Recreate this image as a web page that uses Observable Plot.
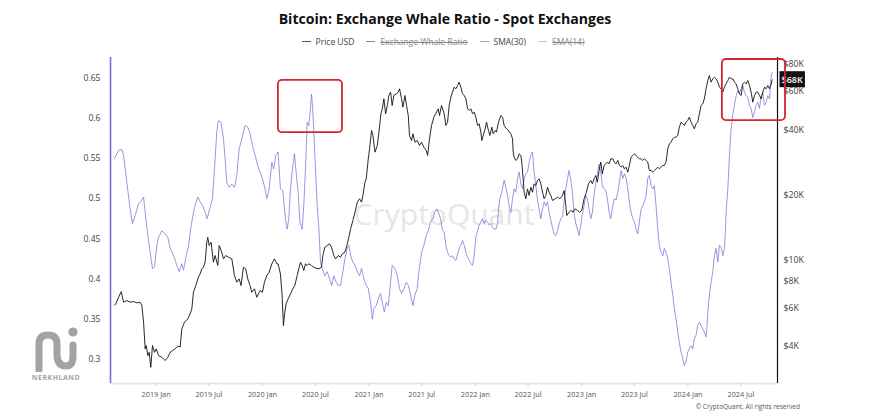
<!DOCTYPE html>
<html><head><meta charset="utf-8">
<script src="https://cdn.jsdelivr.net/npm/d3@7"></script>
<script src="https://cdn.jsdelivr.net/npm/@observablehq/plot@0.6"></script>
<style>
body{margin:0;background:#fff;}
#wrap{position:relative;width:890px;height:420px;overflow:hidden;font-family:"Open Sans",sans-serif;background:#fff;}
#title{position:absolute;top:9px;left:0;width:890px;text-align:center;font-weight:700;font-size:14.1px;color:#111;}
#legend{position:absolute;top:36px;left:0;width:886px;display:flex;justify-content:center;gap:12px;font-size:8.5px;color:#444;}
.item{display:flex;align-items:center;gap:5px}
.sw{width:9px;height:1.6px;display:inline-block}
.off{text-decoration:line-through;color:#888}
#chart{position:absolute;top:50px;left:0}
#copy{position:absolute;top:402px;right:90px;font-size:6.5px;color:#555}
#logo{position:absolute;left:27px;top:324px;width:58px;text-align:center;color:#a3a3a3}
#logo svg{display:block;margin:0 auto}
#logo .name{font:700 7px/8px 'Open Sans';letter-spacing:0.5px;margin-top:2px}
</style></head>
<body><div id="wrap">
<div id="title"></div>
<div id="legend"></div>
<div id="chart"></div>
<div id="copy"></div>
<div id="logo"><svg width="48" height="48" viewBox="0 0 48 48"><path d="M7 46 L7 20 Q7 11 16 11 Q25 11 25 20 L25 30 Q25 42 34 42 Q41 42 41 32 L41 21" fill="none" stroke="#a3a3a3" stroke-width="7" stroke-linecap="round"/><circle cx="41" cy="8" r="4.6" fill="#a3a3a3"/></svg><div class="name">NERKHLAND</div></div>
</div>
<script>
const titleText = "Bitcoin: Exchange Whale Ratio - Spot Exchanges";
const legendLabels = ["Price USD","Exchange Whale Ratio","SMA(30)","SMA(14)"];
const legendColors = ["#555","#888","#a9a6d0","#ccc"];
const legendHidden = [false,true,false,true];
const copyrightText = "© CryptoQuant. All rights reserved";
const watermarkText = "CryptoQuant";

const xDomainYears = [2018.571, 2024.840];
const ratioDomain = [0.270, 0.6755];
const priceDomain = [2700, 86200];
const ratioTicks = [0.3,0.35,0.4,0.45,0.5,0.55,0.6,0.65];
const priceTicks = [4000,6000,8000,10000,20000,40000,60000,80000];
const priceTickLabels = ["$4K","$6K","$8K","$10K","$20K","$40K","$60K","$80K"];
const dateTicks = ["2019-01-01","2019-07-01","2020-01-01","2020-07-01","2021-01-01","2021-07-01","2022-01-01","2022-07-01","2023-01-01","2023-07-01","2024-01-01","2024-07-01"];
const lastPriceLabel = "$68K";
const highlightFrom = [2020.150, 2024.323];
const highlightTo = [2020.751, 2024.915];
const highlightLow = [0.582, 0.597];
const highlightHigh = [0.647, 0.673];

const priceYears = [2018.609,2018.621,2018.647,2018.672,2018.694,2018.725,2018.756,2018.788,2018.819,2018.850,2018.866,2018.882,2018.897,2018.907,2018.922,2018.935,2018.950,2018.966,2018.985,2019.001,2019.023,2019.054,2019.085,2019.110,2019.132,2019.154,2019.179,2019.204,2019.226,2019.242,2019.267,2019.298,2019.320,2019.336,2019.351,2019.373,2019.398,2019.414,2019.430,2019.445,2019.461,2019.477,2019.486,2019.499,2019.517,2019.539,2019.555,2019.580,2019.593,2019.618,2019.634,2019.655,2019.680,2019.712,2019.737,2019.759,2019.781,2019.799,2019.821,2019.843,2019.862,2019.884,2019.900,2019.925,2019.947,2019.962,2019.978,2020.000,2020.019,2020.041,2020.063,2020.088,2020.113,2020.135,
2020.147,2020.169,2020.185,2020.197,2020.210,2020.222,2020.241,2020.263,2020.285,2020.304,2020.326,2020.341,2020.357,2020.373,2020.388,2020.404,2020.420,2020.435,2020.460,2020.482,2020.504,2020.529,2020.554,2020.567,2020.586,2020.608,2020.630,2020.648,2020.670,2020.686,2020.711,2020.733,2020.749,2020.774,2020.792,2020.811,2020.827,2020.849,2020.868,2020.890,2020.911,2020.930,2020.943,2020.962,2020.974,2020.993,2021.005,2021.024,2021.037,2021.056,2021.078,2021.093,2021.112,2021.125,2021.140,2021.156,2021.172,2021.187,2021.203,2021.218,2021.234,2021.256,2021.275,2021.287,2021.306,2021.319,2021.338,2021.353,2021.369,2021.381,2021.400,2021.413,2021.432,2021.453,2021.475,2021.494,2021.516,2021.538,2021.551,2021.569,2021.588,2021.610,2021.626,2021.651,2021.663,2021.682,
2021.707,2021.723,2021.739,2021.754,2021.770,2021.786,2021.801,2021.817,2021.833,2021.848,2021.864,2021.880,2021.895,2021.911,2021.927,2021.942,2021.958,2021.974,2021.989,2022.005,2022.021,2022.036,2022.052,2022.061,2022.074,2022.093,2022.105,2022.124,2022.137,2022.155,2022.168,2022.187,2022.199,2022.218,2022.240,2022.256,2022.271,2022.293,2022.312,2022.334,2022.350,2022.356,2022.365,2022.381,2022.397,2022.412,2022.428,2022.437,2022.450,2022.459,2022.475,2022.491,2022.506,2022.522,2022.538,2022.553,2022.569,2022.585,2022.600,2022.616,2022.632,2022.647,2022.663,2022.679,2022.694,2022.710,2022.726,2022.751,2022.773,2022.794,2022.820,2022.835,2022.851,2022.860,2022.882,2022.898,2022.920,2022.939,2022.961,2022.982,2023.001,2023.023,2023.045,2023.064,2023.086,2023.101,2023.117,2023.133,2023.148,2023.164,2023.180,2023.195,2023.211,2023.227,2023.242,2023.258,2023.274,
2023.293,2023.308,2023.324,2023.340,2023.355,2023.371,2023.387,2023.402,2023.418,2023.434,2023.449,2023.465,2023.481,2023.496,2023.512,2023.528,2023.543,2023.559,2023.575,2023.590,2023.606,2023.622,2023.637,2023.653,2023.669,2023.684,2023.700,2023.716,2023.731,2023.747,2023.763,2023.778,2023.794,2023.810,2023.825,2023.841,2023.857,2023.872,2023.888,2023.904,2023.919,2023.935,2023.951,2023.966,2023.982,2023.998,2024.013,2024.029,2024.045,2024.060,2024.076,2024.092,2024.107,2024.123,2024.139,2024.154,2024.170,2024.186,2024.201,2024.217,2024.233,2024.248,2024.264,2024.280,2024.295,2024.311,2024.327,2024.342,2024.358,2024.374,2024.389,2024.405,2024.421,2024.436,2024.452,2024.467,2024.483,2024.499,2024.514,2024.530,2024.546,2024.561,2024.577,2024.593,2024.608,2024.624,2024.640,2024.655,2024.671,2024.687,2024.702,2024.718,2024.734,2024.749,2024.765,2024.781,2024.790];
const priceUSD = [6200,6289,6747,7170,6403,6518,6403,6448,6359,6403,6183,5179,3902,4043,3629,3761,3206,4043,3761,3902,3629,3567,3444,3567,3761,3831,3902,4016,3981,4827,5179,5364,5655,5965,7117,7645,8350,8650,9125,9292,9795,12120,12772,11697,12120,9795,10517,9460,11697,10896,10147,10517,10332,10147,8500,7918,8200,7645,9292,9125,8200,7645,7117,7381,6747,6994,7249,7117,7918,8500,8808,9627,10147,9627,
9627,8650,6870,4994,5760,6289,6632,6994,7381,7645,8500,9125,9795,9460,8966,9627,9460,9627,9460,9292,9187,9125,9292,10517,11494,11697,11908,11494,10517,10147,10517,10332,10711,10896,11697,12772,13961,15255,16665,18532,19210,18532,19897,22918,23746,29375,32669,39689,37637,31533,33840,38993,47387,49968,55578,47387,51773,57578,59656,51773,57578,58617,59656,61815,55578,50866,57578,51773,46550,37637,35690,38315,35065,35690,33840,35065,33250,32096,30432,36333,41856,45740,47387,49968,46550,51773,
47387,41856,43370,51773,56574,59656,62907,61815,64034,66326,62907,58617,57578,55578,49968,49096,49968,47387,48233,45740,41856,42604,38993,35690,37637,40402,43370,39689,37637,41125,38315,39689,38993,43370,46550,45740,41856,40402,39689,38315,36333,31533,29903,28864,29375,30978,30432,28353,23746,20611,19210,21351,19897,21738,20611,22522,22126,23332,23746,22522,20611,19210,19897,21738,20611,19897,18867,19210,19545,19210,19897,20981,17889,16083,16665,16964,16665,17272,16964,16665,16964,19210,20611,22522,23332,22522,23746,24601,22918,25948,28353,25041,27366,27851,28353,27851,29375,
29375,28353,27851,28864,27366,26882,27366,26406,26882,25490,27366,29903,30432,30978,30432,29903,29375,29375,28864,29375,28864,28353,25948,25948,25490,25948,26406,26882,26406,26882,27366,27366,28353,32669,34448,35065,36333,36976,36976,37637,41125,43370,42604,41856,43370,44146,45740,43370,41856,40402,42604,43370,47387,51773,52698,55578,61815,67522,71204,66326,68729,69962,68729,66326,62907,61815,59656,62907,65170,67522,69962,68729,68729,66326,65170,61815,58617,57578,65170,66326,65170,67522,64034,59656,53641,57578,59656,59656,57578,55578,59656,62907,61815,64034,61815,65170,68000];

const smaYears = [2018.609,2018.647,2018.678,2018.694,2018.725,2018.756,2018.778,2018.803,2018.835,2018.866,2018.882,2018.897,2018.922,2018.944,2018.966,2018.985,2019.007,2019.023,2019.054,2019.085,2019.110,2019.132,2019.164,2019.195,2019.217,2019.242,2019.258,2019.283,2019.304,2019.330,2019.361,2019.392,2019.414,2019.439,2019.461,2019.480,2019.508,2019.530,2019.549,2019.571,2019.586,2019.611,2019.634,2019.649,2019.665,2019.687,2019.712,2019.737,2019.759,2019.781,2019.806,2019.837,2019.862,2019.884,2019.906,2019.931,2019.956,2019.978,2020.000,2020.025,2020.041,2020.063,2020.088,2020.106,2020.125,
2020.147,2020.169,2020.191,2020.216,2020.232,2020.248,2020.263,2020.279,2020.301,2020.316,2020.335,2020.351,2020.373,2020.388,2020.404,2020.420,2020.435,2020.448,2020.461,2020.473,2020.492,2020.514,2020.530,2020.545,2020.561,2020.586,2020.608,2020.630,2020.649,2020.670,2020.692,2020.711,2020.733,2020.749,2020.774,2020.796,2020.811,2020.827,2020.849,2020.868,2020.890,2020.911,2020.930,2020.952,2020.974,2020.993,2021.015,2021.031,2021.046,2021.068,2021.087,2021.109,2021.125,2021.144,2021.162,2021.181,2021.203,2021.218,2021.244,2021.266,2021.287,2021.306,2021.328,2021.350,2021.369,2021.391,2021.413,2021.432,2021.453,2021.469,2021.494,2021.516,2021.538,2021.563,2021.579,2021.601,2021.620,2021.642,2021.657,2021.673,2021.689,
2021.707,2021.723,2021.739,2021.754,2021.770,2021.786,2021.801,2021.817,2021.833,2021.848,2021.864,2021.880,2021.895,2021.911,2021.927,2021.942,2021.958,2021.974,2021.989,2022.005,2022.021,2022.036,2022.052,2022.068,2022.083,2022.099,2022.115,2022.130,2022.146,2022.162,2022.177,2022.193,2022.209,2022.218,2022.231,2022.249,2022.271,2022.287,2022.303,2022.318,2022.334,2022.350,2022.365,2022.381,2022.397,2022.412,2022.428,2022.444,2022.459,2022.475,2022.491,2022.506,2022.522,2022.538,2022.553,2022.569,2022.585,2022.600,2022.616,2022.632,2022.647,2022.663,2022.679,2022.694,2022.710,2022.726,2022.741,2022.757,2022.773,2022.788,2022.804,2022.820,2022.835,2022.851,2022.867,2022.882,2022.898,2022.913,2022.929,2022.945,2022.961,2022.976,2022.992,2023.007,2023.023,2023.039,2023.054,2023.070,2023.086,2023.101,2023.117,2023.133,2023.148,2023.164,2023.180,2023.195,2023.211,2023.227,2023.242,2023.258,2023.274,
2023.293,2023.308,2023.324,2023.340,2023.355,2023.371,2023.387,2023.402,2023.418,2023.434,2023.449,2023.465,2023.481,2023.496,2023.512,2023.528,2023.543,2023.559,2023.575,2023.590,2023.606,2023.622,2023.637,2023.653,2023.669,2023.684,2023.700,2023.716,2023.731,2023.747,2023.763,2023.778,2023.794,2023.810,2023.825,2023.841,2023.857,2023.872,2023.888,2023.904,2023.919,2023.935,2023.951,2023.966,2023.982,2023.998,2024.013,2024.029,2024.045,2024.060,2024.076,2024.092,2024.107,2024.123,2024.139,2024.154,2024.170,2024.179,2024.186,2024.201,2024.217,2024.233,2024.248,2024.264,2024.280,2024.295,2024.311,2024.327,2024.342,2024.352,2024.358,2024.374,2024.389,2024.405,2024.421,2024.436,2024.452,2024.467,2024.483,2024.499,2024.514,2024.530,2024.546,2024.561,2024.577,2024.593,2024.608,2024.624,2024.640,2024.655,2024.671,2024.687,2024.702,2024.718,2024.734,2024.749,2024.765,2024.781,2024.790];
const smaRatio = [0.550,0.560,0.561,0.554,0.520,0.487,0.469,0.479,0.494,0.498,0.502,0.483,0.454,0.433,0.413,0.415,0.442,0.452,0.460,0.456,0.452,0.438,0.429,0.417,0.409,0.419,0.411,0.429,0.440,0.467,0.489,0.502,0.496,0.491,0.483,0.475,0.489,0.500,0.537,0.583,0.597,0.595,0.574,0.550,0.520,0.514,0.518,0.514,0.529,0.562,0.574,0.591,0.589,0.581,0.566,0.554,0.541,0.533,0.525,0.512,0.500,0.512,0.545,0.537,0.554,
0.558,0.512,0.510,0.475,0.462,0.475,0.512,0.533,0.556,0.533,0.508,0.471,0.462,0.491,0.537,0.595,0.591,0.608,0.630,0.608,0.554,0.491,0.462,0.421,0.413,0.404,0.409,0.400,0.392,0.404,0.396,0.392,0.392,0.404,0.425,0.438,0.442,0.429,0.421,0.417,0.409,0.404,0.413,0.400,0.392,0.388,0.371,0.350,0.363,0.367,0.375,0.382,0.371,0.359,0.371,0.367,0.396,0.417,0.413,0.404,0.388,0.382,0.388,0.396,0.392,0.380,0.367,0.380,0.388,0.409,0.433,0.442,0.454,0.462,0.471,0.475,0.483,0.487,0.481,0.475,0.462,
0.458,0.442,0.433,0.429,0.427,0.429,0.425,0.423,0.431,0.438,0.442,0.448,0.442,0.433,0.427,0.423,0.419,0.417,0.429,0.452,0.460,0.467,0.471,0.475,0.469,0.473,0.471,0.467,0.469,0.464,0.462,0.462,0.469,0.487,0.500,0.508,0.523,0.514,0.504,0.491,0.483,0.500,0.512,0.508,0.525,0.533,0.518,0.512,0.525,0.531,0.533,0.545,0.554,0.558,0.533,0.516,0.498,0.487,0.475,0.487,0.496,0.491,0.496,0.483,0.473,0.464,0.456,0.454,0.460,0.469,0.475,0.477,0.496,0.512,0.525,0.535,0.523,0.508,0.481,0.469,0.462,0.454,0.467,0.481,0.491,0.504,0.500,0.487,0.475,0.483,0.504,0.520,0.531,0.543,0.533,0.516,0.512,0.510,0.500,0.483,0.475,
0.491,0.500,0.498,0.508,0.520,0.535,0.525,0.531,0.525,0.512,0.496,0.483,0.475,0.471,0.462,0.456,0.471,0.487,0.491,0.496,0.504,0.525,0.529,0.516,0.512,0.516,0.491,0.462,0.442,0.433,0.429,0.438,0.433,0.425,0.413,0.396,0.380,0.363,0.350,0.334,0.321,0.309,0.301,0.292,0.297,0.309,0.313,0.317,0.313,0.326,0.330,0.342,0.346,0.342,0.338,0.334,0.328,0.342,0.359,0.380,0.396,0.409,0.429,0.438,0.421,0.442,0.440,0.429,0.438,0.462,0.483,0.512,0.554,0.587,0.605,0.616,0.628,0.634,0.630,0.637,0.641,0.632,0.628,0.626,0.616,0.612,0.601,0.608,0.616,0.620,0.612,0.628,0.632,0.616,0.620,0.628,0.624,0.653,0.657];

function yearToDate(y){const yr=Math.floor(y);const a=Date.UTC(yr,0,1),b=Date.UTC(yr+1,0,1);return new Date(a+(y-yr)*(b-a));}

document.getElementById("title").textContent = titleText;
document.getElementById("copy").textContent = copyrightText;
const leg = document.getElementById("legend");
legendLabels.forEach((l,i)=>{
  const it=document.createElement("div");it.className="item";
  const sw=document.createElement("span");sw.className="sw";sw.style.background=legendColors[i];
  const tx=document.createElement("span");tx.textContent=l;if(legendHidden[i])tx.className="off";
  it.appendChild(sw);it.appendChild(tx);leg.appendChild(it);
});

const priceData = priceYears.map((y,i)=>({date:yearToDate(y), price:priceUSD[i]}));
const smaData = smaYears.map((y,i)=>({date:yearToDate(y), ratio:smaRatio[i]}));
const boxes = highlightFrom.map((f,i)=>({x1:yearToDate(f), x2:yearToDate(highlightTo[i]), y1:highlightLow[i], y2:highlightHigh[i]}));
const xDomain = xDomainYears.map(yearToDate);
const priceToRatio = d3.scaleLog().domain(priceDomain).range(ratioDomain);
const priceLabelMap = new Map(priceTicks.map((p,i)=>[priceToRatio(p), priceTickLabels[i]]));
const lastPrice = priceData[priceData.length-1];

const chart = Plot.plot({
  width: 890, height: 370,
  marginLeft: 110, marginRight: 113, marginTop: 7, marginBottom: 37,
  style: {fontFamily: "'Open Sans', sans-serif", background: "transparent", color: "#444"},
  x: {type: "utc", domain: xDomain},
  y: {domain: ratioDomain},
  marks: [
    Plot.text([watermarkText], {frameAnchor: "middle", text: d=>d, fontSize: 30, fontWeight: 500, fill: "#e6e6e6", dy: -5}),
    Plot.ruleY([ratioDomain[0]], {stroke: "#e6e6e6", strokeWidth: 2}),
    Plot.axisX(dateTicks.map(d=>new Date(d)), {tickFormat: d3.utcFormat("%Y %b"), tickSize: 3, tickPadding: 5, stroke: "#ccc", fill: "#555", fontSize: 7.3, label: null}),
    Plot.axisY(ratioTicks, {anchor: "left", tickSize: 0, tickPadding: 10, fontSize: 8.6, fill: "#444", tickFormat: d=>String(d), label: null}),
    Plot.axisY(priceTicks.map(p=>priceToRatio(p)), {anchor: "right", tickSize: 0, tickPadding: 6, fontSize: 8.8, fill: "#444", tickFormat: d=>priceLabelMap.get(d), label: null}),
    Plot.ruleX([xDomain[0]], {stroke: "#7b70cc", strokeWidth: 1.6}),
    Plot.ruleX([xDomain[1]], {stroke: "#111", strokeWidth: 1.2}),
    Plot.lineY(smaData, {x: "date", y: "ratio", stroke: "#7a73d6", strokeWidth: 0.75}),
    Plot.lineY(priceData, {x: "date", y: d=>priceToRatio(d.price), stroke: "#111", strokeWidth: 0.9}),
    Plot.text([lastPrice], {y: d=>priceToRatio(d.price), frameAnchor: "right", text: ()=>lastPriceLabel, textAnchor: "start", dx: 4, fill: "#fff", fontSize: 9, fontWeight: 600, className: "lastlabel"}),
    Plot.rect(boxes, {x1: "x1", x2: "x2", y1: "y1", y2: "y2", stroke: "#d3262e", strokeWidth: 1.8, fill: "none", rx: 4})
  ]
});
document.getElementById("chart").appendChild(chart);
d3.select(chart).selectAll("g.lastlabel text").each(function(){
  const bb = this.getBBox();
  const tf = this.getAttribute("transform");
  const r = d3.select(this.parentNode).insert("rect", "text")
    .attr("x", bb.x-2).attr("y", bb.y-1.5).attr("width", bb.width+4).attr("height", bb.height+3).attr("fill", "#111");
  if (tf) r.attr("transform", tf);
});
</script>
</body></html>
